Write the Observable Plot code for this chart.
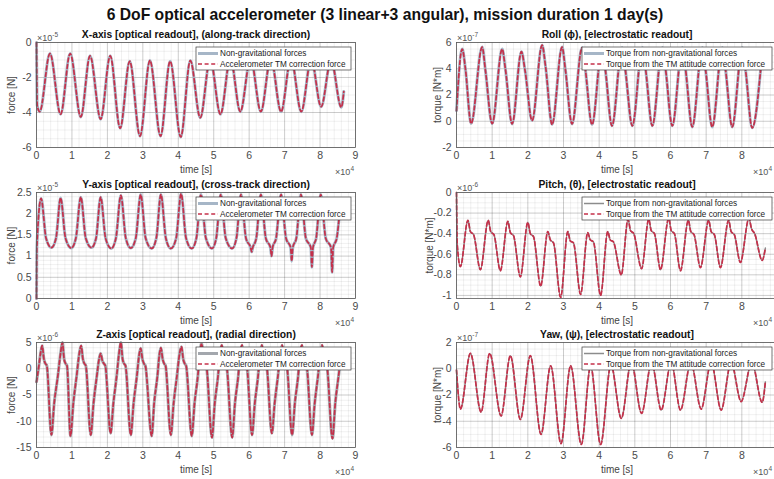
<!DOCTYPE html>
<html><head><meta charset="utf-8">
<script src="https://cdn.jsdelivr.net/npm/d3@7"></script>
<script src="https://cdn.jsdelivr.net/npm/@observablehq/plot@0.6"></script>
<style>
html,body{margin:0;padding:0;background:#fff;}
#root{position:relative;width:774px;height:479px;overflow:hidden;background:#fff;font-family:"Liberation Sans",Arial,sans-serif;}
#title{position:absolute;left:0;width:770px;top:6px;text-align:center;font-weight:bold;font-size:15.7px;color:#111;white-space:nowrap;line-height:18px;}
</style></head><body>
<div id="root"><div id="title">6 DoF optical accelerometer (3 linear+3 angular), mission duration 1 day(s)</div></div>
<script>
// ---- Data (time in units of 1e4 s) ----
const xTicksLeft = [0,1,2,3,4,5,6,7,8,9];
const xTicksRight = [0,1,2,3,4,5,6,7,8];
const seriesLinear = ["Non-gravitational forces", "Accelerometer TM correction force"];
const seriesAngular = ["Torque from non-gravitational forces", "Torque from the TM attitude correction force"];

// X-axis force (x1e-5 N)
const xAxisTime = [0,0.02,0.09,0.38,0.68,0.95,1.25,1.51,1.81,2.08,2.36,2.63,2.92,3.2,3.5,3.77,4.07,4.34,4.62,4.9,5.19,5.47,5.75,6.04,6.33,6.61,6.9,7.18,7.47,7.75,8.03,8.31,8.6,8.67];
const xAxisForce = [0,-3.6,-3.95,-0.63,-4.1,-0.63,-4.25,-0.76,-4.38,-0.76,-4.9,-1.07,-5.35,-1.03,-5.35,-1.07,-5.4,-1.03,-4.3,-0.95,-4.1,-0.9,-3.95,-0.9,-3.95,-0.9,-3.95,-0.9,-3.95,-0.95,-3.67,-1.0,-3.7,-2.8];
const xAxisYTicks = [-6,-4,-2,0];

// Y-axis force (x1e-5 N)
const yAxisTime = [0,0.01,
 0.13,0.27,0.42,0.55, 0.68,0.82,0.98,1.11, 1.25,1.39,1.55,1.68, 1.81,1.95,2.11,2.24,
 2.38,2.52,2.66,2.80, 2.94,3.08,3.25,3.38, 3.51,3.65,3.79,3.94, 4.08,4.22,4.38,4.51,
 4.64,4.78,4.95,5.07, 5.2,5.34,5.52,5.64,
 5.77,5.91,6.04,6.07,6.10,6.2, 6.33,6.47,6.60,6.63,6.66,6.76, 6.9,7.04,7.17,7.2,7.23,7.33,
 7.46,7.6,7.74,7.77,7.8,7.89, 8.02,8.16,8.31,8.34,8.37,8.47, 8.56];
const yAxisForce = [0,1.2,
 2.36,1.42,1.2,1.42, 2.37,1.42,1.19,1.42, 2.39,1.42,1.2,1.42, 2.39,1.42,1.18,1.42,
 2.43,1.42,1.19,1.42, 2.45,1.42,1.18,1.42, 2.45,1.42,1.18,1.42, 2.47,1.42,1.18,1.42,
 2.45,1.42,1.18,1.42, 2.45,1.42,1.18,1.42,
 2.45,1.42,1.2,1.1,1.2,1.42, 2.45,1.42,1.2,1.0,1.2,1.42, 2.45,1.42,1.2,0.88,1.2,1.42,
 2.45,1.42,1.2,0.74,1.2,1.42, 2.45,1.42,1.2,0.62,1.2,1.42, 2.1];
const yAxisYTicks = [0,0.5,1,1.5,2,2.5];

// Z-axis force (x1e-6 N)
const zAxisTime = [0,0.06,0.12,0.16,
 0.21,0.25,0.29,0.42,0.5,0.6,0.68,0.73,
 0.78,0.82,0.86,0.96,1.04,1.13,1.21,1.26,
 1.31,1.35,1.39,1.53,1.61,1.7,1.77,1.81,
 1.86,1.9,1.94,2.09,2.17,2.26,2.33,2.38,
 2.43,2.47,2.51,2.66,2.74,2.83,2.9,2.94,
 2.99,3.03,3.07,3.25,3.32,3.41,3.47,3.51,
 3.56,3.6,3.64,3.79,3.87,3.96,4.04,4.09,
 4.14,4.18,4.22,4.38,4.46,4.55,4.61,4.66,
 4.71,4.75,4.79,4.95,5.03,5.12,5.18,5.23,
 5.28,5.32,5.36,5.52,5.6,5.69,5.75,5.8,
 5.85,5.89,5.93,6.08,6.16,6.25,6.31,6.36,
 6.41,6.45,6.49,6.64,6.72,6.81,6.88,6.93,
 6.98,7.02,7.06,7.21,7.29,7.38,7.44,7.49,
 7.54,7.58,7.62,7.77,7.85,7.94,8.01,8.06,
 8.11,8.15,8.19,8.35,8.43,8.52,8.56];
const zAxisForce = [-2.5,0.2,3.2,4.4,
 1.8,1.0,0.6,-12.6,-6.5,-1.5,3.0,5.0,
 1.8,1.0,0.6,-12.8,-6.5,-1.5,3.0,4.4,
 1.8,1.0,0.6,-12.6,-6.5,-1.5,2.0,2.9,
 1.5,1.0,0.6,-12.3,-6.5,-1.5,3.0,5.0,
 1.8,1.0,0.6,-12.6,-6.5,-1.5,2.8,3.9,
 1.8,1.0,0.6,-12.8,-6.5,-1.5,2.8,4.0,
 1.8,1.0,0.6,-12.6,-6.5,-1.5,3.0,4.2,
 1.8,1.0,0.6,-12.8,-6.5,-1.5,3.0,4.8,
 1.8,1.0,0.6,-13.1,-6.5,-1.5,3.0,4.5,
 1.8,1.0,0.6,-13.1,-6.5,-1.5,3.0,4.5,
 1.8,1.0,0.6,-12.6,-6.5,-1.5,3.0,4.5,
 1.8,1.0,0.6,-12.3,-6.5,-1.5,3.0,4.5,
 1.8,1.0,0.6,-12.6,-6.5,-1.5,3.0,4.5,
 1.8,1.0,0.6,-12.6,-6.5,-1.5,3.0,4.5,
 1.8,1.0,0.6,-13.3,-6.5,-1.5,0.7];
const zAxisYTicks = [-15,-10,-5,0,5];

// Roll torque (x1e-7 N*m)
const rollTime = [0,0.16,0.25,0.41,0.72,0.81,1.0,1.28,1.37,1.56,1.82,1.92,2.12,2.4,2.5,2.68,2.96,3.05,3.24,3.52,3.61,3.8,4.08,4.17,4.36,4.64,4.73,4.93,5.21,5.3,5.49,5.77,5.86,6.05,6.33,6.42,6.61,6.89,6.98,7.17,7.45,7.54,7.73,8.01,8.1,8.29,8.55];
const rollTorque = [0.8,5.5,4.0,-0.18,5.65,3.9,-0.18,5.5,4.0,-0.2,5.3,3.9,0.05,5.8,4.1,-0.25,5.65,4.0,-0.2,5.6,4.0,-0.25,5.6,4.0,-0.35,5.6,4.0,-0.35,5.6,4.0,-0.35,5.6,4.0,-0.35,5.6,4.0,-0.43,5.6,4.0,-0.43,5.6,4.0,-0.43,5.6,4.0,-0.5,4.6];
const rollYTicks = [-2,0,2,4,6];

// Pitch torque (x1e-6 N*m)
const pitchTime = [0,0.02,0.11,
 0.32,0.39,0.48,0.67, 0.89,0.96,1.05,1.23, 1.44,1.51,1.6,1.79, 2.0,2.07,2.16,2.36,
 2.56,2.63,2.72,2.92, 3.12,3.19,3.28,3.48, 3.68,3.75,3.84,4.04, 4.24,4.31,4.4,4.62,
 4.81,4.88,4.97,5.19, 5.39,5.46,5.55,5.72, 5.95,6.02,6.11,6.28, 6.5,6.57,6.66,6.84,
 7.07,7.14,7.23,7.4, 7.63,7.7,7.79,7.96, 8.2,8.27,8.36,8.57, 8.66];
const pitchTorque = [0,-0.5,-0.72,
 -0.27,-0.38,-0.41,-0.75, -0.27,-0.38,-0.41,-0.76, -0.28,-0.39,-0.42,-0.82, -0.29,-0.4,-0.43,-0.91,
 -0.38,-0.46,-0.49,-1.02, -0.38,-0.47,-0.49,-0.99, -0.39,-0.46,-0.48,-1.0, -0.38,-0.46,-0.48,-0.8,
 -0.26,-0.37,-0.4,-0.74, -0.26,-0.37,-0.4,-0.75, -0.25,-0.37,-0.4,-0.76, -0.27,-0.38,-0.41,-0.73,
 -0.27,-0.38,-0.41,-0.73, -0.27,-0.38,-0.41,-0.68, -0.25,-0.35,-0.4,-0.66, -0.54];
const pitchYTicks = [-1,-0.8,-0.6,-0.4,-0.2,0];

// Yaw torque (x1e-7 N*m)
const yawTime = [0,0.11,0.39,0.69,0.93,1.25,1.51,1.79,2.07,2.37,2.64,2.93,3.2,3.5,3.76,4.04,4.33,4.62,4.9,5.19,5.47,5.74,6.02,6.28,6.57,6.86,7.14,7.42,7.7,7.98,8.28,8.57,8.66];
const yawTorque = [-0.1,-3.07,1.17,-3.3,1.17,-3.6,1.0,-3.86,1.0,-5.0,0.23,-5.7,0.23,-5.77,0.2,-5.77,0.3,-3.78,0.5,-3.4,0.5,-3.15,0.5,-3.15,0.5,-3.07,0.5,-3.15,0.5,-2.5,0.5,-2.56,-1.0];
const yawYTicks = [-6,-4,-2,0,2];

// ---- Styling ----
const RED = "#c5304a";
const BLUEGRAY = "#a6b6c7";
const GRAY = "#8c8c8c";
const FONT = "'Liberation Sans', Arial, sans-serif";

function minorRange(lo, hi, step) {
  const n = Math.round((hi - lo) / step);
  return d3.range(n + 1).map(i => +(lo + i * step).toFixed(4));
}

function makePanel(cfg) {
  const width = 390, marginLeft = 36, marginTop = 17, marginBottom = 32;
  const {svgLeft, svgTop, pw, ph, time, values, yDomain, yTicks, yMinorStep, xTicks,
         title, ylabel, ylabelDx, exponent, labels, legendX, legendW, gray, grayWidth} = cfg;
  const data = time.map((t, i) => ({t, v: values[i]}));
  const height = marginTop + ph + marginBottom;
  const marginRight = width - marginLeft - pw;
  const xMinor = minorRange(0, 9, 0.2);
  const yStart = Math.ceil(yDomain[0] / yMinorStep - 1e-9) * yMinorStep;
  const yMinor = minorRange(yStart, yDomain[1], yMinorStep);
  const svg = Plot.plot({
    width, height, marginLeft, marginRight, marginTop, marginBottom,
    x: {domain: [0, 9]},
    y: {domain: yDomain},
    style: {fontFamily: FONT, fontSize: "10.5px", color: "#4a4a4a", background: "transparent", overflow: "visible"},
    marks: [
      Plot.gridX(xMinor, {stroke: "#000", strokeOpacity: 0.06}),
      Plot.gridY(yMinor, {stroke: "#000", strokeOpacity: 0.06}),
      Plot.gridX(xTicksLeft, {stroke: "#000", strokeOpacity: 0.15}),
      Plot.gridY(yTicks, {stroke: "#000", strokeOpacity: 0.15}),
      Plot.line(data, {x: "t", y: "v", stroke: gray, strokeWidth: grayWidth, curve: "monotone-x"}),
      Plot.line(data, {x: "t", y: "v", stroke: RED, strokeWidth: 1.7, strokeDasharray: "4,2.6", curve: "monotone-x"}),
      Plot.frame({stroke: "#5a5a5a", strokeWidth: 0.8}),
      Plot.axisX(xTicks, {tickSize: 0, tickPadding: 4, label: null, tickFormat: d => String(d)}),
      Plot.axisY(yTicks, {tickSize: 0, tickPadding: 5, label: null, tickFormat: d => String(d)}),
      Plot.text([title], {text: d => d, frameAnchor: "top", dy: -8, textAnchor: "middle", lineAnchor: "middle", fontWeight: "bold", fontSize: 10.3, fill: "#111"}),
      Plot.text(["time [s]"], {text: d => d, frameAnchor: "bottom", dy: 22, textAnchor: "middle", lineAnchor: "middle", fontSize: 10, fill: "#444"}),
      Plot.text([ylabel], {text: d => d, frameAnchor: "left", dx: ylabelDx, rotate: -90, textAnchor: "middle", lineAnchor: "middle", fontSize: 10, fill: "#444"})
    ]
  });
  svg.style.position = "absolute";
  svg.style.left = svgLeft + "px";
  svg.style.top = svgTop + "px";
  const s = d3.select(svg);
  // exponent labels
  const addExp = (x, y, base, exp, anchor) => {
    const t = s.append("text").attr("x", x).attr("y", y).attr("text-anchor", anchor)
      .attr("font-size", 9).attr("fill", "#555").attr("font-family", FONT);
    t.append("tspan").text(base);
    t.append("tspan").attr("dy", -4).attr("font-size", 6.5).text(exp);
  };
  addExp(marginLeft + 1, marginTop - 1, "×10", exponent, "start");
  addExp(Math.min(marginLeft + pw - 1, 774 - svgLeft - 2), marginTop + ph + 28, "×10", "4", "end");
  // legend
  const g = s.append("g").attr("font-family", FONT).attr("text-anchor", "start");
  const ly = marginTop + 5;
  g.append("rect").attr("x", legendX).attr("y", ly).attr("width", legendW).attr("height", 23)
    .attr("fill", "#fff").attr("stroke", "#3a3a3a").attr("stroke-width", 0.7);
  const rows = [ly + 6.5, ly + 17];
  g.append("line").attr("x1", legendX + 2).attr("x2", legendX + 22).attr("y1", rows[0]).attr("y2", rows[0])
    .attr("stroke", gray).attr("stroke-width", grayWidth);
  g.append("line").attr("x1", legendX + 2).attr("x2", legendX + 22).attr("y1", rows[1]).attr("y2", rows[1])
    .attr("stroke", RED).attr("stroke-width", 1.7).attr("stroke-dasharray", "4,2.6");
  labels.forEach((l, i) => g.append("text").attr("x", legendX + 24).attr("y", rows[i]).attr("dy", "0.35em")
    .attr("text-anchor", "start").attr("font-size", 8.2).attr("fill", "#1a1a1a").text(l));
  document.getElementById("root").appendChild(svg);
}

const L = {svgLeft: 0, pw: 319, xTicks: xTicksLeft, legendX: 196, legendW: 155, labels: seriesLinear, ylabel: "force [N]", ylabelDx: -25};
const R = {svgLeft: 420, pw: 321, xTicks: xTicksRight, legendX: 162, legendW: 190, labels: seriesAngular, ylabel: "torque [N*m]", ylabelDx: -19};

makePanel({...L, svgTop: 25, ph: 105, time: xAxisTime, values: xAxisForce, yDomain: [-6, 0], yTicks: xAxisYTicks, yMinorStep: 0.5,
  title: "X-axis [optical readout], (along-track direction)", exponent: "-5", gray: BLUEGRAY, grayWidth: 3});
makePanel({...L, svgTop: 175, ph: 106, time: yAxisTime, values: yAxisForce, yDomain: [0, 2.5], yTicks: yAxisYTicks, yMinorStep: 0.1,
  title: "Y-axis [optical readout], (cross-track direction)", exponent: "-5", gray: BLUEGRAY, grayWidth: 3});
makePanel({...L, svgTop: 325, ph: 105, time: zAxisTime, values: zAxisForce, yDomain: [-15, 5], yTicks: zAxisYTicks, yMinorStep: 1,
  title: "Z-axis [optical readout], (radial direction)", exponent: "-6", gray: "#a3a7ad", grayWidth: 3});
makePanel({...R, svgTop: 25, ph: 105, time: rollTime, values: rollTorque, yDomain: [-2, 6], yTicks: rollYTicks, yMinorStep: 0.5,
  title: "Roll (\u03d5), [electrostatic readout]", exponent: "-7", gray: BLUEGRAY, grayWidth: 3});
makePanel({...R, svgTop: 175, ph: 106, time: pitchTime, values: pitchTorque, yDomain: [-1.03, 0], yTicks: pitchYTicks, yMinorStep: 0.05,
  title: "Pitch, (\u03b8), [electrostatic readout]", exponent: "-6", ylabelDx: -27, gray: GRAY, grayWidth: 1.5});
makePanel({...R, svgTop: 325, ph: 105, time: yawTime, values: yawTorque, yDomain: [-6, 2], yTicks: yawYTicks, yMinorStep: 0.5,
  title: "Yaw, (\u03c8), [electrostatic readout]", exponent: "-7", gray: GRAY, grayWidth: 1.5});
</script>
</body></html>
